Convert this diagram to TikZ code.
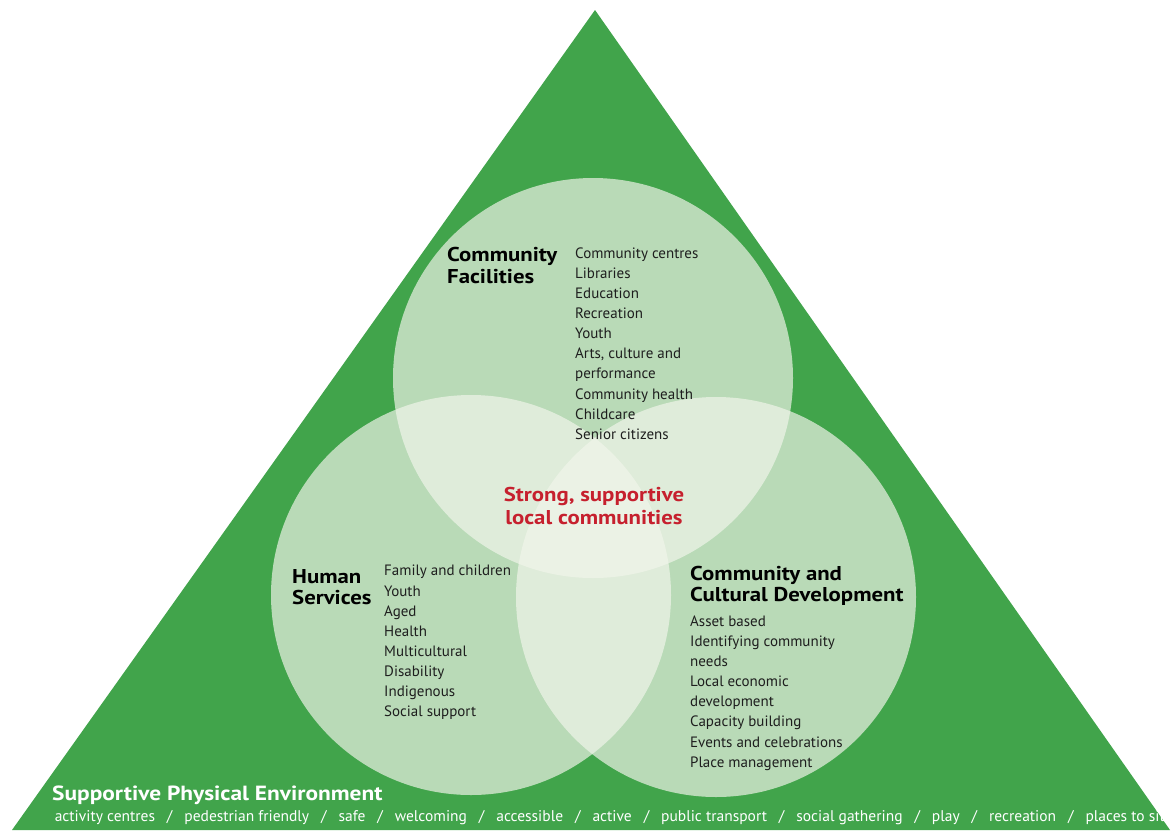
\documentclass[tikz,border=0pt]{standalone}
\usepackage{fontspec}
\setmainfont{PT Sans}
\newfontfamily\headfont[FakeStretch=1.14]{PT Sans Bold}
\definecolor{trigreen}{HTML}{41A44B}
\definecolor{ringfill}{RGB}{242,245,235}
\definecolor{redtext}{HTML}{C6202E}
\definecolor{inktext}{HTML}{1E1E1E}
\newcommand{\envsep}{\hspace{2pt plus 1fil}/\hspace{2pt plus 1fil}}

\begin{document}
\begin{tikzpicture}[x=1pt, y=-1pt,
    ring/.style={circle, minimum size=400pt, inner sep=0pt, fill=ringfill, fill opacity=0.68},
    heading/.style={anchor=west, inner sep=0pt, align=left, text=black, font=\fontsize{20}{21.5}\selectfont\headfont},
    items/.style={anchor=west, inner sep=0pt, align=left, text=inktext, font=\fontsize{15}{20.1}\selectfont}]

    \useasboundingbox (0,0) rectangle (1172,830);

    % background triangle
    \fill[trigreen] (595,10) -- (1170,830) -- (12,830) -- cycle;

    % three circles
    \node[ring] (top) at (593,378) {};
    \node[ring] (left) at (471,595) {};
    \node[ring] (right) at (716,597) {};

    % Community Facilities
    \node[heading] (cfhead) at (447,265.5) {Community\\Facilities};
    \node[items] (cflist) at (575,343.5) {Community centres\\Libraries\\Education\\Recreation\\Youth\\Arts, culture and\\performance\\Community health\\Childcare\\Senior citizens};

    % Human Services
    \node[heading] (hshead) at (292,587) {Human\\Services};
    \node[items] (hslist) at (384,642.5) {Family and children\\Youth\\Aged\\Health\\Multicultural\\Disability\\Indigenous\\Social support};

    % Community and Cultural Development
    \node[heading] (ccdhead) at (690,586) {Community and\\Cultural Development};
    \node[items] (ccdlist) at (690,693) {Asset based\\Identifying community\\needs\\Local economic\\development\\Capacity building\\Events and celebrations\\Place management};

    % centre
    \node[inner sep=0pt, align=center, text=redtext, font=\fontsize{20}{23.5}\selectfont\headfont] (core) at (594,506) {Strong, supportive\\local communities};

    % bottom band
    \node[anchor=west, inner sep=0pt, text=white, font=\fontsize{20.5}{24}\selectfont\headfont] (envhead) at (52,795) {Supportive Physical Environment};
    \node[anchor=east, inner sep=0pt, text=white, font=\fontsize{15.5}{18}\selectfont] (envlist) at (1165,818) {\hbox to 1110pt{activity centres\envsep pedestrian friendly\envsep safe\envsep welcoming\envsep accessible\envsep active\envsep public transport\envsep social gathering\envsep play\envsep recreation\envsep places to sit}};

\end{tikzpicture}
\end{document}
